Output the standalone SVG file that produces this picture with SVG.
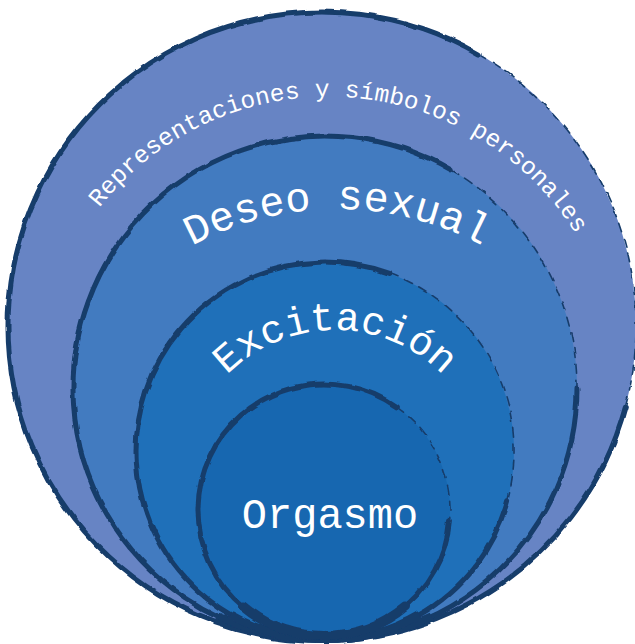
<svg xmlns="http://www.w3.org/2000/svg" xmlns:xlink="http://www.w3.org/1999/xlink" width="635" height="644" viewBox="0 0 635 644">
<style>
.lbl{font-family:"Liberation Mono","DejaVu Sans Mono",monospace;fill:#ffffff;}
.edge{fill:none;stroke:#163c6b;stroke-linecap:round;}
.solid{stroke-width:5;}
.thick{stroke-width:8;stroke-linecap:butt;}
.thin{stroke-width:1.6;stroke-dasharray:9 7;}
</style>
<defs>
<filter id="rough" filterUnits="userSpaceOnUse" x="0" y="0" width="635" height="644">
<feTurbulence type="fractalNoise" baseFrequency="0.06" numOctaves="2" seed="3" result="n"/>
<feDisplacementMap in="SourceGraphic" in2="n" scale="4" xChannelSelector="R" yChannelSelector="G"/>
</filter>
<path id="arcRep" d="M41.2,337.7 A291.5,291.5 0 0 1 615.4,337.7"/>
<path id="arcDes" d="M72.9,361.5 A305,305 0 0 1 601.1,361.5"/>
<path id="arcExc" d="M192.2,430 A152,152 0 0 1 477.8,430"/>
</defs>
<rect width="635" height="644" fill="#ffffff"/>
<g id="node-representaciones">
<circle cx="322" cy="326" r="314" fill="#6784c4"/>
<g filter="url(#rough)">
<path class="edge solid" d="M625.3,407.3 A314,314 0 1 1 479,54.1"/>
<path class="edge thin" d="M479,54.1 A314,314 0 0 1 625.3,407.3"/>
<path class="edge thick" d="M429.4,621.1 A314,314 0 0 1 214.6,621.1"/>
</g>
<text class="lbl" font-size="24.5"><textPath xlink:href="#arcRep" href="#arcRep" startOffset="423" text-anchor="middle">Representaciones y símbolos personales</textPath></text>
</g>
<g id="node-deseo">
<circle cx="325" cy="388" r="252" fill="#427bc0"/>
<g filter="url(#rough)">
<path class="edge solid" d="M577,388 A252,252 0 1 1 451,169.8"/>
<path class="edge thin" d="M451,169.8 A252,252 0 0 1 577,388"/>
<path class="edge thick" d="M431.5,616.4 A252,252 0 0 1 218.5,616.4"/>
</g>
<text class="lbl" font-size="42"><textPath xlink:href="#arcDes" href="#arcDes" startOffset="50%" text-anchor="middle">Deseo sexual</textPath></text>
</g>
<g id="node-excitacion">
<circle cx="325" cy="451" r="189" fill="#1f70b9"/>
<g filter="url(#rough)">
<path class="edge solid" d="M507.6,499.9 A189,189 0 1 1 389.6,273.4"/>
<path class="edge thin" d="M389.6,273.4 A189,189 0 0 1 507.6,499.9"/>
<path class="edge thick" d="M419.5,614.7 A189,189 0 0 1 230.5,614.7"/>
</g>
<text class="lbl" font-size="40"><textPath xlink:href="#arcExc" href="#arcExc" startOffset="50%" text-anchor="middle">Excitación</textPath></text>
</g>
<g id="node-orgasmo">
<circle cx="324" cy="510" r="126" fill="#1767b0"/>
<g filter="url(#rough)">
<path class="edge solid" d="M449.5,521 A126,126 0 1 1 396.3,406.8"/>
<path class="edge thin" d="M396.3,406.8 A126,126 0 0 1 449.5,521"/>
<path class="edge" stroke-width="10" stroke-linecap="butt" d="M405,606.5 A126,126 0 0 1 243,606.5"/>
</g>
<text class="lbl" font-size="42" x="330" y="528" text-anchor="middle">Orgasmo</text>
</g>
</svg>
